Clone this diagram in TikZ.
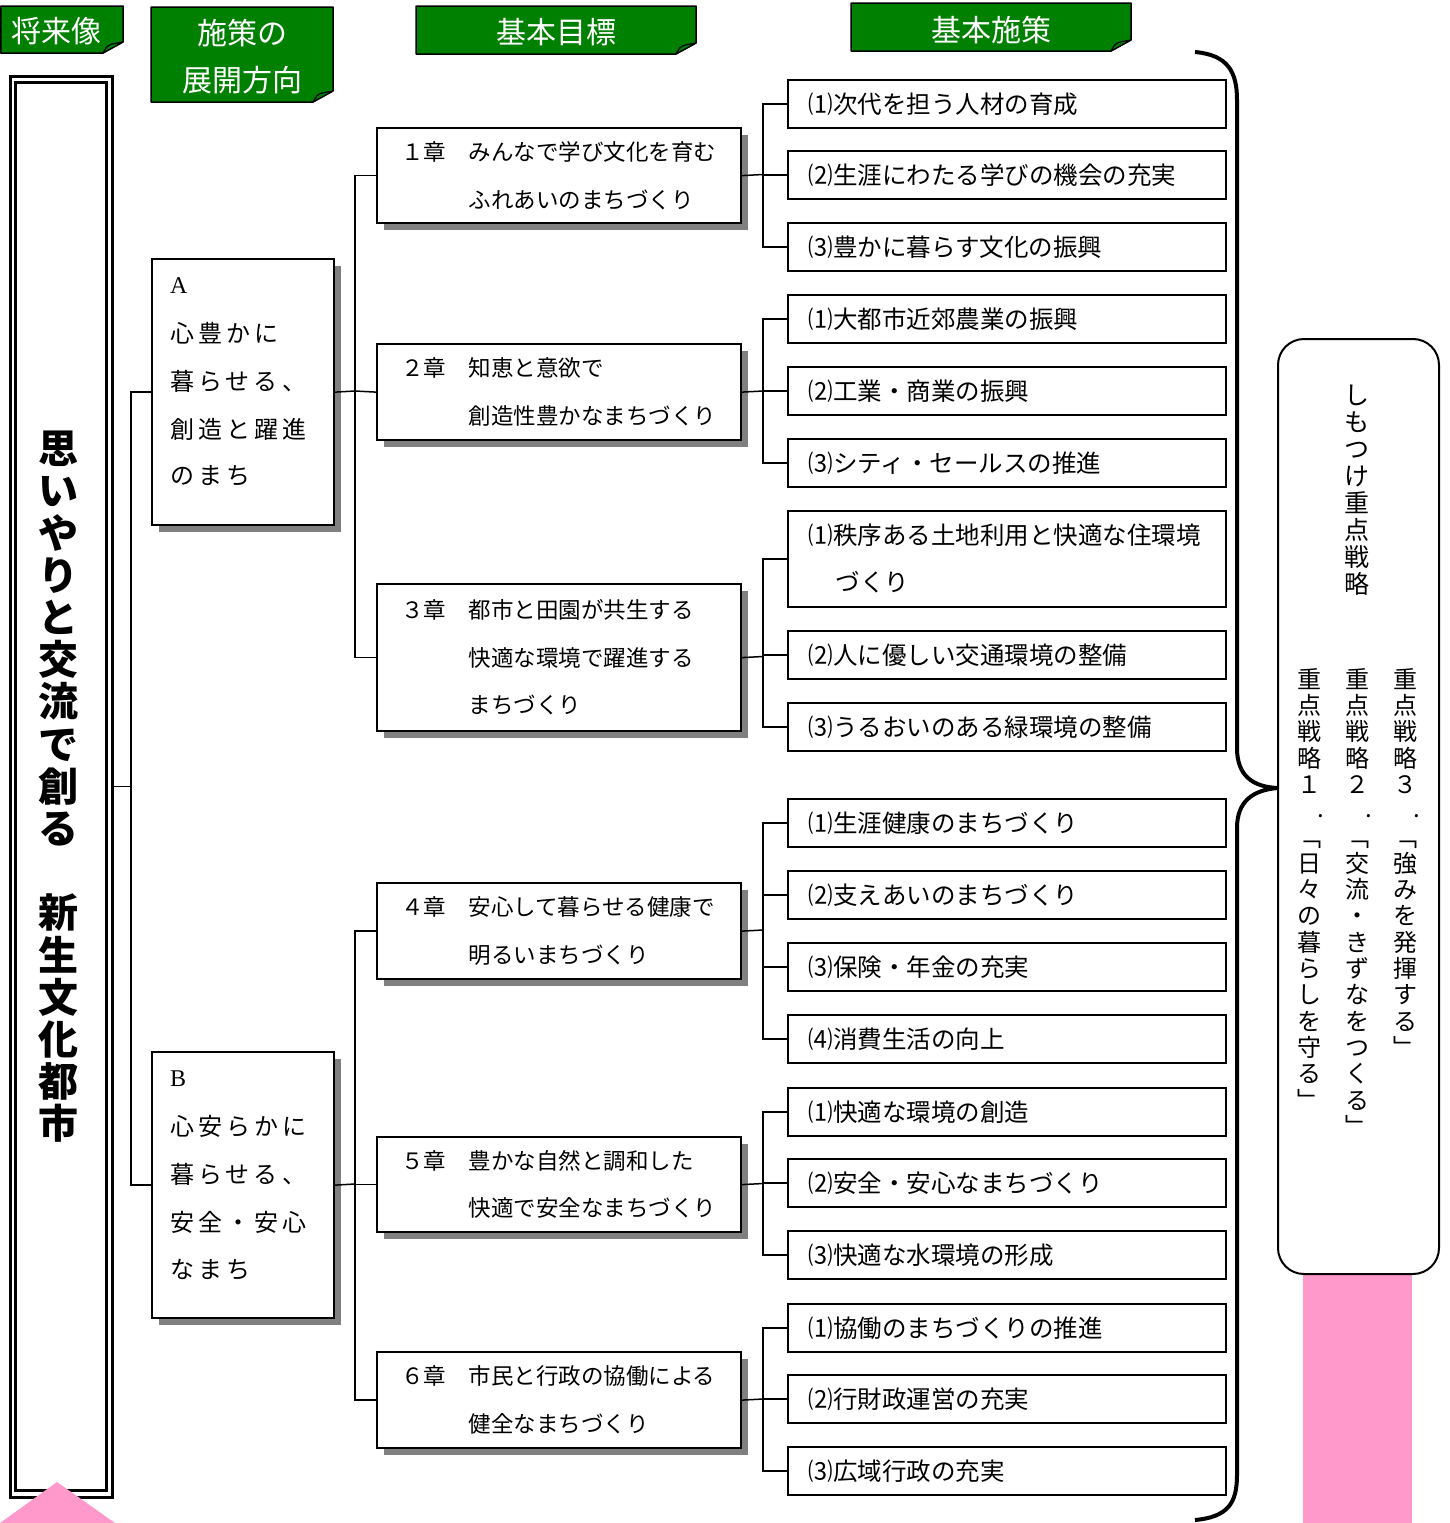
\documentclass[tikz,border=0pt]{standalone}
\usepackage{fontspec}
\setmainfont{Liberation Serif}
\newfontfamily\jp{Noto Sans CJK JP}
\usetikzlibrary{shadows}
\definecolor{tabgreen}{HTML}{008000}
\definecolor{pinkc}{HTML}{FF99CC}
\tikzset{
  conn/.style={line width=1.5pt},
  tabtext/.style={text=white, font=\jp\fontsize{30}{47}\selectfont, align=center, inner sep=0},
  shadowed/.style={drop shadow={shadow xshift=7pt, shadow yshift=-7pt, fill=black!50, opacity=1}},
  chapbox/.style={draw, line width=2.2pt, fill=white, anchor=north west, minimum width=364pt,
    text width=316pt, inner xsep=24pt, inner ysep=0pt, align=left,
    font=\jp\fontsize{22.5}{47.5}\selectfont, shadowed},
  subbox/.style={draw, line width=1.8pt, fill=white, anchor=north west, minimum width=438pt,
    text width=396pt, inner xsep=21pt, inner ysep=0pt, align=left,
    font=\jp\fontsize{24.5}{47}\selectfont},
  areabox/.style={draw, line width=2.2pt, fill=white, anchor=north west, minimum width=182pt,
    minimum height=266pt, inner sep=0pt, shadowed},
  atext/.style={anchor=west, inner sep=0pt, font=\jp\fontsize{24}{24}\selectfont\addfontfeature{LetterSpace=17}},
  vtxt/.style={anchor=north, align=center, inner sep=0pt, font=\jp\fontsize{24}{26.3}\selectfont},
}
\newcommand\tabshape[4]{%
  \filldraw[fill=tabgreen, draw=black, line width=1.5pt, line join=round]
    (#1,#2) -- (#3,#2) -- (#3,#4-11) -- (#3-20,#4) -- (#1,#4) -- cycle;
  \filldraw[fill=tabgreen, draw=black, line width=1.2pt, line join=round]
    (#3,#4-11) -- (#3-20,#4) .. controls (#3-16,#4-7) .. (#3-11,#4-9) -- cycle;
}
\newcommand\chap[4]{\node[chapbox, minimum height=#3pt] (#1) at (376,#2) {#4};}
\newcommand\subb[4]{\node[subbox, minimum height=#3pt] (#1) at (787,#2) {#4};}
\newcommand\vdot{\makebox[0pt][l]{\hspace{8pt}\raisebox{2pt}{.}}}
\begin{document}
\begin{tikzpicture}[x=1pt,y=-1pt]
\useasboundingbox (0,0) rectangle (1449,1523);

% header tabs
\tabshape{0.75}{6}{123}{53}
\node[tabtext] (h1) at (57,31) {将来像};
\tabshape{151}{7}{333}{102}
\node[tabtext] (h2) at (242,56.5) {施策の\\展開方向};
\tabshape{416}{6}{696}{54}
\node[tabtext] (h3) at (556,32) {基本目標};
\tabshape{851}{3}{1131}{51}
\node[tabtext] (h4) at (991,30) {基本施策};

% left title box
\node[draw, line width=3pt, minimum width=102pt, minimum height=1421pt, inner sep=0] (title) at (61,786.5) {};
\draw[line width=3pt] (15.5,82) rectangle (106.5,1490.5);
\node[anchor=north, align=center, inner sep=0pt, font=\jp\bfseries\fontsize{40}{42.2}\selectfont] (ttl) at (58,431)
  {思\\い\\や\\り\\と\\交\\流\\で\\創\\る\\\mbox{}\\新\\生\\文\\化\\都\\市};
\fill[pinkc] (0,1523) -- (57,1482) -- (115,1523) -- cycle;

% area boxes
\node[areabox] (A) at (151,258) {};
\node[atext] (a0) at (170,286) {\rmfamily A};
\node[atext] (a1) at (170,333) {心豊かに};
\node[atext] (a2) at (170,381) {暮らせる、};
\node[atext] (a3) at (170,429) {創造と躍進};
\node[atext] (a4) at (170,476) {のまち};
\node[areabox] (B) at (151,1051) {};
\node[atext] (b0) at (170,1079) {\rmfamily B};
\node[atext] (b1) at (170,1126) {心安らかに};
\node[atext] (b2) at (170,1174) {暮らせる、};
\node[atext] (b3) at (170,1222) {安全・安心};
\node[atext] (b4) at (170,1270) {なまち};

% chapter boxes
\chap{C1}{127}{95}{１章　みんなで学び文化を育む\\\hspace*{3em}ふれあいのまちづくり}
\chap{C2}{343}{96}{２章　知恵と意欲で\\\hspace*{3em}創造性豊かなまちづくり}
\chap{C3}{583}{147}{３章　都市と田園が共生する\\\hspace*{3em}快適な環境で躍進する\\\hspace*{3em}まちづくり}
\chap{C4}{882}{96}{４章　安心して暮らせる健康で\\\hspace*{3em}明るいまちづくり}
\chap{C5}{1136}{95}{５章　豊かな自然と調和した\\\hspace*{3em}快適で安全なまちづくり}
\chap{C6}{1351}{96}{６章　市民と行政の協働による\\\hspace*{3em}健全なまちづくり}

% sub boxes
\subb{S11}{79}{48}{⑴次代を担う人材の育成}
\subb{S12}{150}{48}{⑵生涯にわたる学びの機会の充実}
\subb{S13}{222}{48}{⑶豊かに暮らす文化の振興}
\subb{S21}{294}{48}{⑴大都市近郊農業の振興}
\subb{S22}{366}{48}{⑵工業・商業の振興}
\subb{S23}{438}{48}{⑶シティ・セールスの推進}
\subb{S31}{510}{96}{⑴秩序ある土地利用と快適な住環境\\\hspace*{1.1em}づくり}
\subb{S32}{630}{48}{⑵人に優しい交通環境の整備}
\subb{S33}{702}{48}{⑶うるおいのある緑環境の整備}
\subb{S41}{798}{48}{⑴生涯健康のまちづくり}
\subb{S42}{870}{48}{⑵支えあいのまちづくり}
\subb{S43}{942}{48}{⑶保険・年金の充実}
\subb{S44}{1014}{48}{⑷消費生活の向上}
\subb{S51}{1087}{48}{⑴快適な環境の創造}
\subb{S52}{1158}{48}{⑵安全・安心なまちづくり}
\subb{S53}{1230}{48}{⑶快適な水環境の形成}
\subb{S61}{1303}{48}{⑴協働のまちづくりの推進}
\subb{S62}{1374}{48}{⑵行財政運営の充実}
\subb{S63}{1446}{48}{⑶広域行政の充実}

% connectors: title -> areas
\coordinate (j0) at (131,786.5);
\draw[conn] (title.east) -- (j0);
\draw[conn] (A.west) -| (j0) |- (B.west);
% areas -> chapters
\coordinate (jA) at (355,391);
\draw[conn] (A.east) -- (jA);
\draw[conn] (C1.west) -| (jA) |- (C3.west);
\draw[conn] (jA) -- (C2.west);
\coordinate (jB) at (355,1184);
\draw[conn] (B.east) -- (jB);
\draw[conn] (C4.west) -| (jB) |- (C6.west);
\draw[conn] (C5.west) -- (C5.west -| jB);
% chapters -> subs
\coordinate (j1) at (763,174.5);
\draw[conn] (C1.east) -- (j1);
\draw[conn] (S11.west) -| (j1) |- (S13.west);
\draw[conn] (S12.west) -- (S12.west -| j1);
\coordinate (j2) at (763,391);
\draw[conn] (C2.east) -- (j2);
\draw[conn] (S21.west) -| (j2) |- (S23.west);
\draw[conn] (S22.west) -- (S22.west -| j2);
\coordinate (j3) at (763,656.5);
\draw[conn] (C3.east) -- (j3);
\draw[conn] (S31.west) -| (j3) |- (S33.west);
\draw[conn] (S32.west) -- (S32.west -| j3);
\coordinate (j4) at (763,930);
\draw[conn] (C4.east) -- (j4);
\draw[conn] (S41.west) -| (j4) |- (S44.west);
\draw[conn] (S42.west) -- (S42.west -| j4);
\draw[conn] (S43.west) -- (S43.west -| j4);
\coordinate (j5) at (763,1183.5);
\draw[conn] (C5.east) -- (j5);
\draw[conn] (S51.west) -| (j5) |- (S53.west);
\draw[conn] (S52.west) -- (S52.west -| j5);
\coordinate (j6) at (763,1399);
\draw[conn] (C6.east) -- (j6);
\draw[conn] (S61.west) -| (j6) |- (S63.west);
\draw[conn] (S62.west) -- (S62.west -| j6);

% right side strategies
\fill[pinkc] (1303,1273) rectangle (1412,1523);
\node[draw, line width=2pt, fill=white, rounded corners=26pt, minimum width=161pt, minimum height=935pt, anchor=north west, inner sep=0] (strat) at (1277,338) {};
\coordinate (tip) at (1278,788);
\draw[line width=4pt] (1195,52) .. controls (1228,55) and (1237,72) .. (1237,100) -- (1237,748)
  .. controls (1237,775) and (1252,787) .. (tip)
  .. controls (1252,790) and (1237,802) .. (1237,828) -- (1237,1475)
  .. controls (1237,1503) and (1228,1517) .. (1195,1520);
\node[vtxt, font=\jp\fontsize{25}{27}\selectfont] (shimo) at (1357,384.5) {し\\も\\つ\\け\\重\\点\\戦\\略};
\node[vtxt] (st3) at (1405,668) {重\\点\\戦\\略\\３\\\vdot\\﹁\\強\\み\\を\\発\\揮\\す\\る\\﹂};
\node[vtxt] (st2) at (1357,668) {重\\点\\戦\\略\\２\\\vdot\\﹁\\交\\流\\・\\き\\ず\\な\\を\\つ\\く\\る\\﹂};
\node[vtxt] (st1) at (1309,668) {重\\点\\戦\\略\\１\\\vdot\\﹁\\日\\々\\の\\暮\\ら\\し\\を\\守\\る\\﹂};
\end{tikzpicture}
\end{document}
